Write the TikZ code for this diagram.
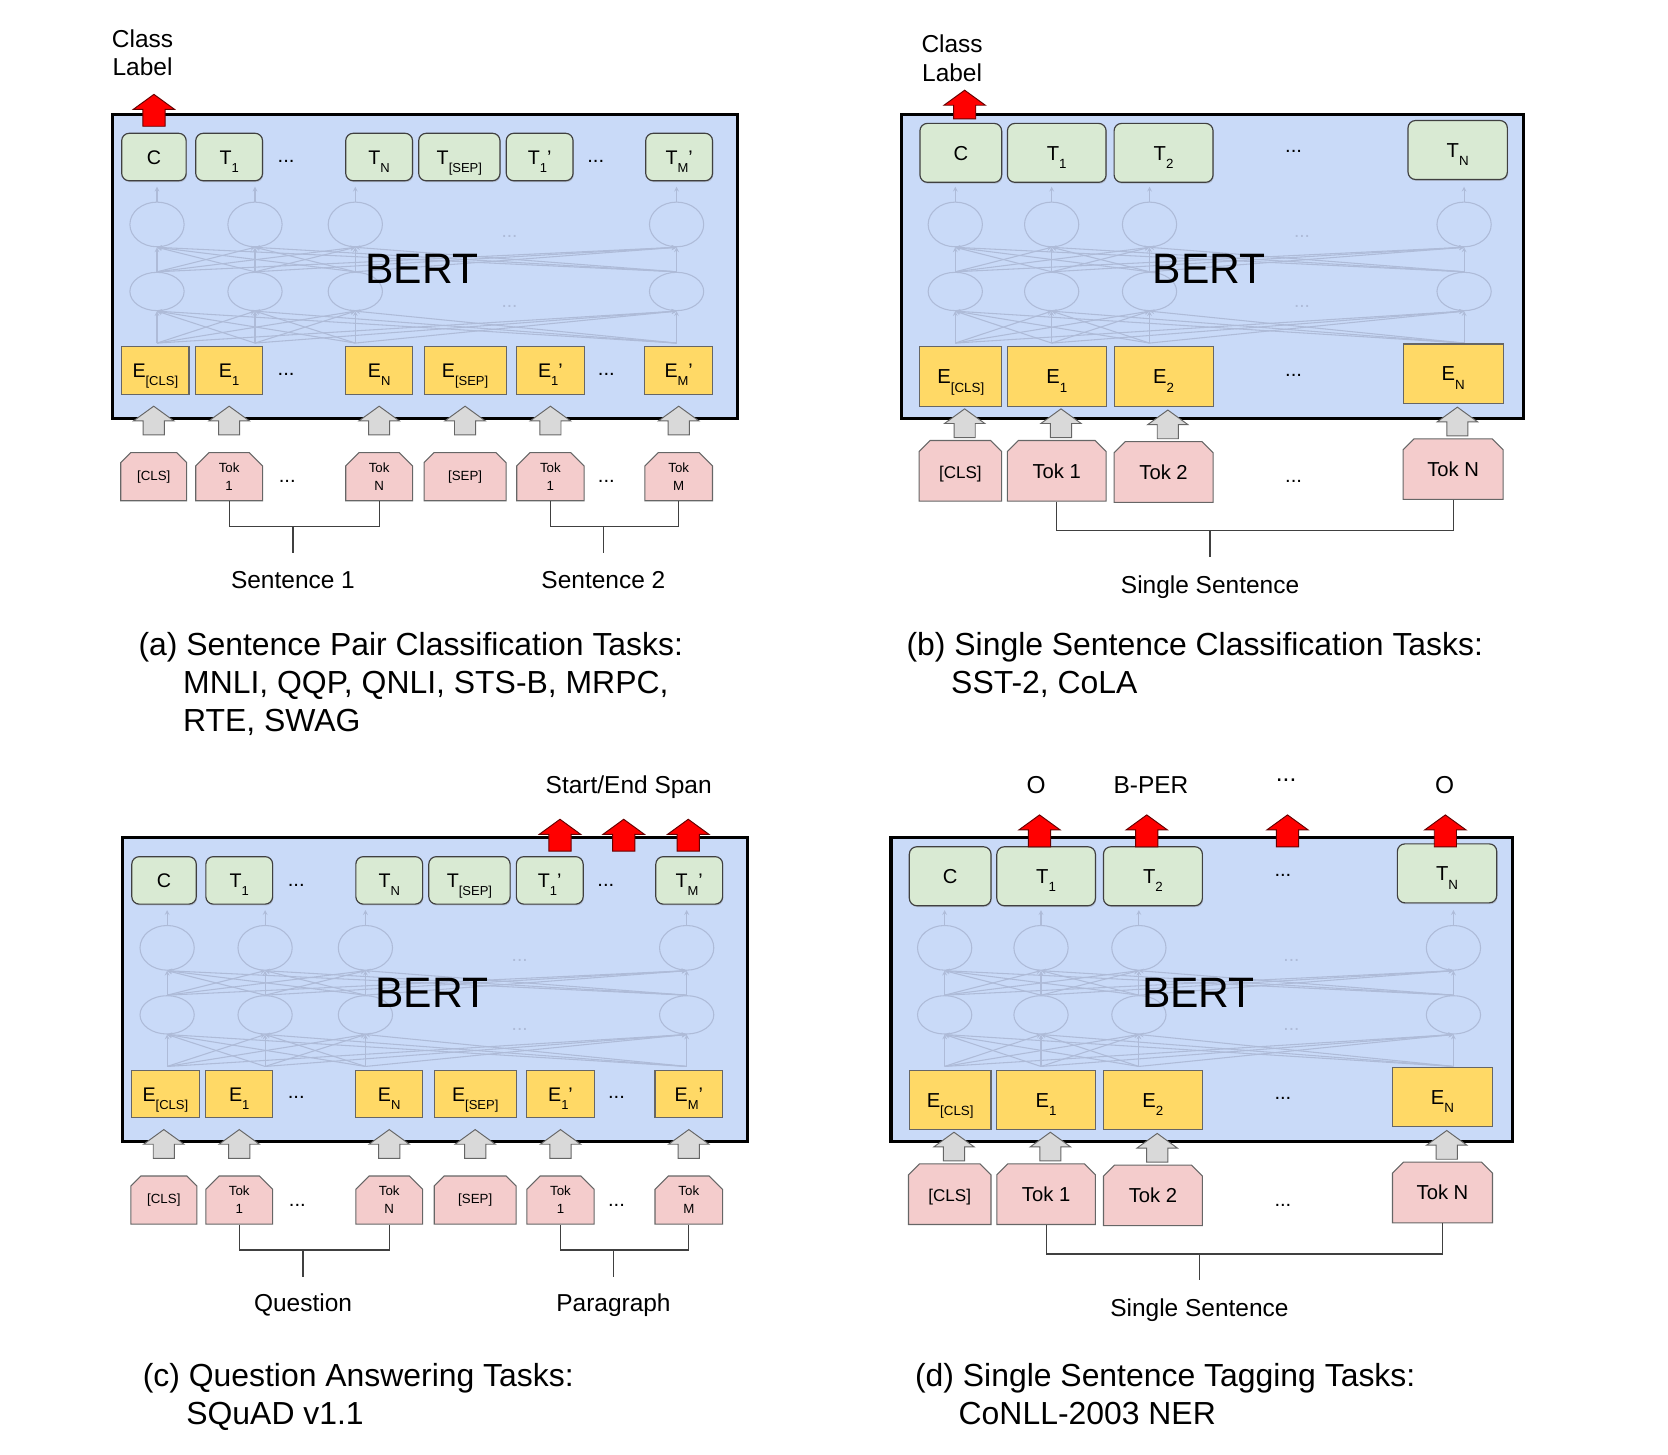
\documentclass[tikz,border=0pt]{standalone}
\usepackage{fontspec}
\setmainfont{Liberation Sans}
\usetikzlibrary{shapes.misc,shapes.arrows,shapes.geometric,shadows}

\definecolor{bertblue}{HTML}{C9DAF8}
\definecolor{tgreen}{HTML}{D9EAD3}
\definecolor{eyellow}{HTML}{FFD966}
\definecolor{tokpink}{HTML}{F4CCCC}
\definecolor{arrgray}{HTML}{D9D9D9}
\definecolor{netgray}{HTML}{AEBBD8}

\newcommand{\lsub}[1]{\raisebox{-0.42em}{\scalebox{0.66}{#1}}}

\tikzset{
  bertbox/.style={draw=black, line width=3pt, fill=bertblue, inner sep=0pt},
  tbox/.style={draw=black!75, line width=1.1pt, fill=tgreen, rounded corners=7pt, inner sep=0pt,
    drop shadow={shadow xshift=0.7pt, shadow yshift=-1.3pt, opacity=0.35}},
  ebox/.style={draw=black!60, line width=1pt, fill=eyellow, inner sep=0pt},
  tokbox/.style={chamfered rectangle, chamfered rectangle corners={north west,north east},
    chamfered rectangle xsep=9pt, draw=black!60, line width=1pt, fill=tokpink, inner sep=0pt},
  grayarr/.style={single arrow, rotate=90, anchor=tail, draw=black!60, line width=0.9pt, fill=arrgray,
    minimum height=27pt, inner xsep=0pt, inner ysep=9.5pt, single arrow head extend=9pt,
    single arrow tip angle=108},
  redarr/.style={grayarr, draw=red!40!black, fill=red, minimum height=30pt, inner ysep=10pt},
  netnode/.style={ellipse, draw=netgray, line width=1pt, minimum width=51pt, minimum height=42pt, inner sep=0pt},
  netline/.style={draw=netgray, line width=1pt, ->, >=stealth},
  netdots/.style={text=netgray, font=\fontsize{18}{18}\selectfont},
  joinline/.style={draw=black!75, line width=1.1pt},
  bertlab/.style={font=\fontsize{40}{40}\selectfont},
  pairlab/.style={font=\fontsize{18.5}{20}\selectfont, text height=13.3pt, text depth=0pt},
  pairtok/.style={font=\fontsize{12.5}{17}\selectfont, align=center},
  singlab/.style={font=\fontsize{19}{21}\selectfont, text height=13.6pt, text depth=0pt},
  dotlab/.style={font=\fontsize{19}{19}\selectfont},
  lab/.style={font=\fontsize{23}{27}\selectfont},
  capt/.style={font=\fontsize{30}{36}\selectfont, align=left, anchor=north west, inner sep=0pt},
}

\begin{document}
\begin{tikzpicture}[x=1pt, y=-1pt]
    \useasboundingbox (0,0) rectangle (1568,1367);

    % Paneles (a) y (c): pares de secuencias
    \foreach \p/\dx/\dy/\la/\lb in {a/0/0/Sentence 1/Sentence 2, c/9.5/680/Question/Paragraph} {
    \begin{scope}[shift={(\dx,\dy)}]
        % Caja BERT
        \node[bertbox, minimum width=588pt, minimum height=286pt] (\p-box) at (399.4,250.3) {};

        % Red oculta
        \foreach \i/\x in {1/147.6, 2/239.7, 3/334, 4/636} {
            \node[netnode] (\p-u\i) at (\x,211) {};
            \node[netnode, minimum height=36pt] (\p-l\i) at (\x,274) {};
            \coordinate (\p-b\i) at (\x,322.5);
            \coordinate (\p-o\i) at (\x,175.5);
        }
        \foreach \i in {1,...,4} {
            \draw[netline] (\p-u\i) -- (\p-o\i);
            \foreach \j in {1,...,4} {
                \draw[netline] (\p-l\i.north) -- (\p-u\j.south);
                \draw[netline] (\p-b\i) -- (\p-l\j.south);
            }
        }
        \node[netdots] (\p-nd1) at (479,222.5) {...};
        \node[netdots] (\p-nd2) at (479,288) {...};
        \node[bertlab] (\p-bert) at (396.5,253) {BERT};

        % Salidas T
        \foreach \i/\x/\w/\lab in {1/144.7/60.6/C, 2/215.4/62.8/T\lsub{1}, 3/356.4/62.8/T\lsub{N},
                4/431.8/76.4/T\lsub{[SEP]}, 5/507.3/62.8/T\lsub{1}’, 6/638.4/62.8/T\lsub{M}’}
            \node[tbox, pairlab, minimum width=\w pt, minimum height=44.6pt] (\p-t\i) at (\x,147.6) {\lab};
        \node[dotlab] (\p-td1) at (269,152) {...};
        \node[dotlab] (\p-td2) at (560,152) {...};

        % Embeddings E
        \foreach \i/\x/\w/\lab in {1/146/63.3/E\lsub{[CLS]}, 2/215.4/62.8/E\lsub{1}, 3/356.4/62.8/E\lsub{N},
                4/437.2/77/E\lsub{[SEP]}, 5/517.4/63.3/E\lsub{1}’, 6/638/63.5/E\lsub{M}’}
            \node[ebox, pairlab, minimum width=\w pt, minimum height=44.7pt] (\p-e\i) at (\x,348.4) {\lab};
        \node[dotlab] (\p-ed1) at (269,352) {...};
        \node[dotlab] (\p-ed2) at (570,352) {...};

        % Tokens de entrada
        \foreach \i/\x/\w/\lab in {1/144.5/62/[CLS], 2/215.4/62.8/Tok\\1, 3/356.4/62.8/Tok\\N,
                4/437.2/77/[SEP], 5/517.4/63.3/Tok\\1, 6/638/63.5/Tok\\M} {
            \node[tokbox, pairtok, minimum width=\w pt, minimum height=45.2pt] (\p-k\i) at (\x,448.1) {\lab};
            \node[grayarr] (\p-g\i) at ([yshift=15.7pt]\p-k\i.north) {};
        }
        \node[dotlab] (\p-kd1) at (270,452.8) {...};
        \node[dotlab] (\p-kd2) at (570,452.8) {...};

        % Agrupaciones
        \coordinate (\p-s1) at (275.4,495);
        \coordinate (\p-s1e) at (275.4,520);
        \coordinate (\p-s2) at (567.2,495);
        \coordinate (\p-s2e) at (567.2,520);
        \draw[joinline] (\p-k2.south) |- (\p-s1) -| (\p-k3.south);
        \draw[joinline] (\p-s1) -- (\p-s1e);
        \draw[joinline] (\p-k5.south) |- (\p-s2) -| (\p-k6.south);
        \draw[joinline] (\p-s2) -- (\p-s2e);
        \node[lab, anchor=base] (\p-sa) at (275.4,553) {\la};
        \node[lab, anchor=base] (\p-sb) at (567.2,553) {\lb};
    \end{scope}
    }

    % Paneles (b) y (d): una sola secuencia
    \foreach \p/\dx/\dy in {b/0/0, d/-10/680} {
    \begin{scope}[shift={(\dx,\dy)}]
        % Caja BERT
        \node[bertbox, minimum width=584.5pt, minimum height=286pt] (\p-box) at (1139.8,250.3) {};

        % Red oculta
        \foreach \i/\x in {1/898, 2/988.6, 3/1080.6, 4/1376.3} {
            \node[netnode] (\p-u\i) at (\x,211) {};
            \node[netnode, minimum height=36pt] (\p-l\i) at (\x,274) {};
            \coordinate (\p-b\i) at (\x,322.5);
            \coordinate (\p-o\i) at (\x,175.5);
        }
        \foreach \i in {1,...,4} {
            \draw[netline] (\p-u\i) -- (\p-o\i);
            \foreach \j in {1,...,4} {
                \draw[netline] (\p-l\i.north) -- (\p-u\j.south);
                \draw[netline] (\p-b\i) -- (\p-l\j.south);
            }
        }
        \node[netdots] (\p-nd1) at (1224,222.5) {...};
        \node[netdots] (\p-nd2) at (1224,288) {...};
        \node[bertlab] (\p-bert) at (1136.5,253) {BERT};

        % Salidas T
        \foreach \i/\x/\y/\w/\lab in {1/903.2/143.7/76.8/C, 2/993.4/143.7/92.7/T\lsub{1},
                3/1093.8/143.7/93/T\lsub{2}, 4/1370.3/141/93.4/T\lsub{N}}
            \node[tbox, singlab, minimum width=\w pt, minimum height=55.4pt] (\p-t\i) at (\x,\y) {\lab};
        \node[dotlab] (\p-td) at (1216,142.6) {...};

        % Embeddings E
        \foreach \i/\x/\y/\w/\lab in {1/903.2/353.9/76.8/E\lsub{[CLS]}, 2/993.4/353.9/92.7/E\lsub{1},
                3/1093.8/353.9/93/E\lsub{2}, 4/1366/351.2/94/E\lsub{N}}
            \node[ebox, singlab, minimum width=\w pt, minimum height=55.7pt] (\p-e\i) at (\x,\y) {\lab};
        \node[dotlab] (\p-ed) at (1216,352.5) {...};

        % Tokens de entrada
        \foreach \i/\x/\y/\w/\lab in {1/902.8/442.6/77.6/{\fontsize{16}{16}\selectfont[CLS]},
                2/993.4/442.6/92.7/Tok 1, 3/1093.8/443.7/93/Tok 2, 4/1366/441/94/Tok N} {
            \node[tokbox, singlab, minimum width=\w pt, minimum height=57pt] (\p-k\i) at (\x,\y) {\lab};
            \node[grayarr] (\p-g\i) at ([xshift=4pt,yshift=1.8pt]\p-k\i.north) {};
        }
        \node[dotlab] (\p-kd) at (1216,452.8) {...};

        % Agrupacion
        \coordinate (\p-s) at (1137.5,498.8);
        \coordinate (\p-se) at (1137.5,523.3);
        \draw[joinline] (\p-k2.south) |- (\p-s) -| (\p-k4.south);
        \draw[joinline] (\p-s) -- (\p-se);
        \node[lab, anchor=base] (\p-sent) at (1137.5,557.7) {Single Sentence};
    \end{scope}
    }

    % Salidas de (a) y (b)
    \node[lab, align=center] (a-cls) at (134,49.5) {Class\\Label};
    \node[redarr] (a-out) at ([yshift=5.6pt]a-t1.north) {};
    \node[lab, align=center] (b-cls) at (895,54.5) {Class\\Label};
    \node[redarr, minimum height=27pt] (b-out) at ([xshift=3.6pt,yshift=3.2pt]b-t1.north) {};

    % Salidas de (c)
    \node[lab, anchor=base] (c-span) at (591,745.5) {Start/End Span};
    \foreach \i/\x in {1/526.4, 2/586.3, 3/647}
        \node[redarr] (c-out\i) at (\x,800.6) {};

    % Salidas de (d)
    \foreach \i/\x/\lx/\tag in {1/977.2/974/O, 2/1078/1082/B-PER, 4/1358.7/1358/O} {
        \node[redarr] (d-out\i) at (\x,796.5) {};
        \node[lab, anchor=base] (d-tag\i) at (\lx,746.3) {\tag};
    }
    \node[redarr] (d-out3) at (1210.3,796.5) {};
    \node[lab] (d-tag3) at (1209,733) {...};

    % Leyendas
    \node[capt] (a-cap) at (130,594) {(a) Sentence Pair Classification Tasks:\\
        \hspace*{42pt}MNLI, QQP, QNLI, STS-B, MRPC,\\\hspace*{42pt}RTE, SWAG};
    \node[capt] (b-cap) at (852,594) {(b) Single Sentence Classification Tasks:\\
        \hspace*{42pt}SST-2, CoLA};
    \node[capt] (c-cap) at (134,1281) {(c) Question Answering Tasks:\\\hspace*{41pt}SQuAD v1.1};
    \node[capt] (d-cap) at (860,1281) {(d) Single Sentence Tagging Tasks:\\\hspace*{41pt}CoNLL-2003 NER};
\end{tikzpicture}
\end{document}
